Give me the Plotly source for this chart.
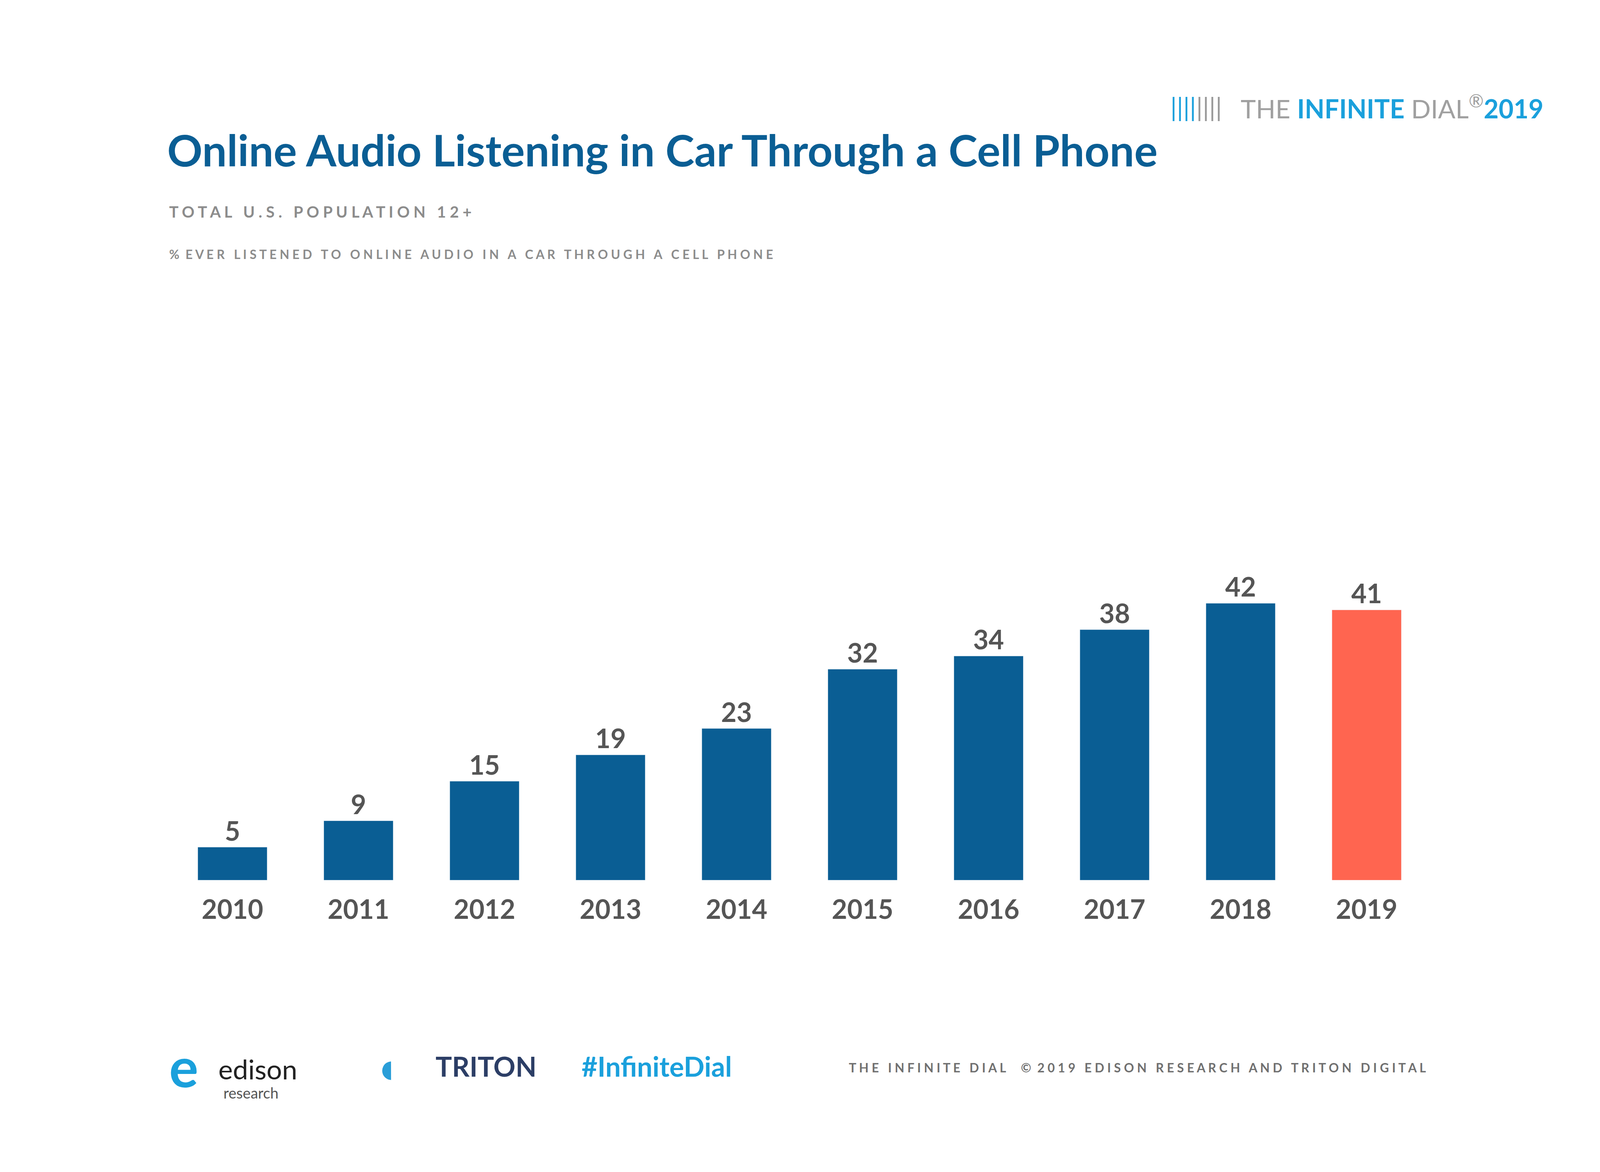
import plotly.graph_objects as go

years = ["2010","2011","2012","2013","2014","2015","2016","2017","2018","2019"]
values = [5, 9, 15, 19, 23, 32, 34, 38, 42, 41]
colors = ["#0A5E94"]*9 + ["#FF6550"]

F = "Lato, Open Sans, sans-serif"

fig = go.Figure(go.Bar(
    x=years, y=values, marker_color=colors, width=0.55,
    text=["<b>%d</b>" % v for v in values], textposition="outside", cliponaxis=False,
    textfont=dict(size=68, color="#555555", family=F),
))

def px(x): return x/1568
def py(y): return 1 - y/882

ann = []
def t(x, y, s, size, color, anchor="left", bold=False):
    ann.append(dict(x=px(x), y=py(y), xref="paper", yref="paper", text=("<b>%s</b>" % s) if bold else s,
                    showarrow=False, xanchor=anchor, yanchor="middle",
                    font=dict(size=size, color=color, family=F)))

t(160, 110, "Online Audio Listening in Car Through a Cell Phone", 112, "#0A5E94", bold=True)
t(162, 157, "T O T A L   U . S .   P O P U L A T I O N   1 2 +", 40, "#8C8C8C", bold=True)
t(162, 189, "%  E V E R   L I S T E N E D   T O   O N L I N E   A U D I O   I N   A   C A R   T H R O U G H   A   C E L L   P H O N E", 32, "#8C8C8C", bold=True)
t(1212, 78, "THE <b><span style='color:#1AA0DC'>INFINITE</span></b> DIAL<sup>®</sup><b><span style='color:#1AA0DC'>2019</span></b>", 66, "#A0A0A0")
t(1143, 78, "<span style='color:#1AA0DC'>||||</span><span style='color:#999'>||||</span>", 66, "#1AA0DC")
t(566, 800, "#InfiniteDial", 70, "#1AA0DC", bold=True)
t(828, 801, "T H E   I N F I N I T E   D I A L     ©  2 0 1 9   E D I S O N   R E S E A R C H   A N D   T R I T O N   D I G I T A L", 32, "#707070", bold=True)
t(162, 800, "<b>e</b>", 140, "#1AA0DC")
t(210, 802, "edison", 70, "#222222")
t(215, 820, "research", 38, "#555555")
t(362, 800, "<b>◖</b>", 110, "#2A9ED8")
t(423, 800, "<b>TRITON</b>", 70, "#2C3E66")

fig.update_layout(
    autosize=True, paper_bgcolor="white", plot_bgcolor="white",
    margin=dict(l=0, r=0, t=0, b=0), showlegend=False,
    annotations=ann,
    xaxis=dict(domain=[px(163), px(1398)], showline=False, showgrid=False, ticks="",
               tickvals=years, ticktext=["<b>%s</b>" % y for y in years],
               ticklabelstandoff=30,
               tickfont=dict(size=68, color="#555555", family=F)),
    yaxis=dict(domain=[py(660), py(412)], range=[0, 50], visible=False),
)
fig.write_html("out.html", default_width="100vw", default_height="100vh",
               config={"responsive": True})
